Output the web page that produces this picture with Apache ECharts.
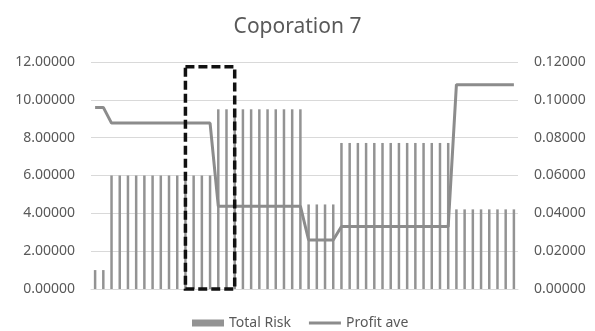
<!DOCTYPE html>
<html>
<head>
<meta charset="utf-8">
<script src="https://cdn.jsdelivr.net/npm/echarts@6/dist/echarts.min.js"></script>
<style>
html,body{margin:0;padding:0;background:#fff;}
#chart{width:595px;height:331px;}
</style>
</head>
<body>
<div id="chart"></div>
<script>
const titleText = 'Coporation 7';
const seriesNames = ['Total Risk', 'Profit ave'];
const categories = ['1','2','3','4','5','6','7','8','9','10','11','12','13','14','15','16','17','18','19','20','21','22','23','24','25','26','27','28','29','30','31','32','33','34','35','36','37','38','39','40','41','42','43','44','45','46','47','48','49','50','51','52'];
const totalRisk = [
  1.0, 1.0,
  6.0, 6.0, 6.0, 6.0, 6.0, 6.0, 6.0, 6.0, 6.0, 6.0, 6.0, 6.0, 6.0,
  9.5, 9.5, 9.5, 9.5, 9.5, 9.5, 9.5, 9.5, 9.5, 9.5, 9.5,
  4.47, 4.47, 4.47, 4.47,
  7.72, 7.72, 7.72, 7.72, 7.72, 7.72, 7.72, 7.72, 7.72, 7.72, 7.72, 7.72, 7.72, 7.72,
  4.21, 4.21, 4.21, 4.21, 4.21, 4.21, 4.21, 4.21
];
const profitAve = [
  0.096, 0.096,
  0.0877, 0.0877, 0.0877, 0.0877, 0.0877, 0.0877, 0.0877, 0.0877, 0.0877, 0.0877, 0.0877, 0.0877, 0.0877,
  0.0438, 0.0438, 0.0438, 0.0438, 0.0438, 0.0438, 0.0438, 0.0438, 0.0438, 0.0438, 0.0438,
  0.0259, 0.0259, 0.0259, 0.0259,
  0.033, 0.033, 0.033, 0.033, 0.033, 0.033, 0.033, 0.033, 0.033, 0.033, 0.033, 0.033, 0.033, 0.033,
  0.108, 0.108, 0.108, 0.108, 0.108, 0.108, 0.108, 0.108
];
const leftTicks = [0, 12, 2];
const rightTicks = [0, 0.12, 0.02];
// highlighted box annotation: [fromCategoryIndex, toCategoryIndex, bottom, top] on left axis
const highlightBox = [[11, 17, 0, 11.75]];

const chart = echarts.init(document.getElementById('chart'));
const font = 'Noto Sans';
chart.setOption({
  animation: false,
  backgroundColor: '#ffffff',
  title: {
    text: titleText,
    left: 'center',
    top: 12,
    textStyle: { fontFamily: font, fontSize: 21, fontWeight: 'normal', color: '#595959' }
  },
  legend: {
    data: [
      { name: seriesNames[0], icon: 'rect' },
      { name: seriesNames[1], icon: 'path://M0,0 L32,0 L32,3 L0,3 Z' }
    ],
    top: 311,
    left: 187,
    itemWidth: 32,
    itemHeight: 7,
    itemGap: 18,
    symbolKeepAspect: true,
    textStyle: { fontFamily: font, fontSize: 14, color: '#595959' }
  },
  grid: { left: 91, right: 77, top: 62, bottom: 42 },
  xAxis: {
    type: 'category',
    data: categories,
    axisLine: { lineStyle: { color: '#d9d9d9' } },
    axisTick: { show: false },
    axisLabel: { show: false }
  },
  yAxis: [
    {
      type: 'value', min: leftTicks[0], max: leftTicks[1], interval: leftTicks[2],
      axisLine: { show: false }, axisTick: { show: false },
      splitLine: { lineStyle: { color: '#d9d9d9', width: 1 } },
      axisLabel: { margin: 16, fontFamily: font, fontSize: 14, color: '#595959',
        formatter: v => v.toFixed(5) }
    },
    {
      type: 'value', min: rightTicks[0], max: rightTicks[1], interval: rightTicks[2],
      axisLine: { show: false }, axisTick: { show: false },
      splitLine: { show: false },
      axisLabel: { margin: 16, fontFamily: font, fontSize: 14, color: '#595959',
        formatter: v => v.toFixed(5) }
    }
  ],
  series: [
    {
      name: seriesNames[0],
      type: 'bar',
      data: totalRisk,
      yAxisIndex: 0,
      barWidth: 2.5,
      itemStyle: { color: '#939393' }
    },
    {
      name: seriesNames[1],
      type: 'line',
      data: profitAve,
      yAxisIndex: 1,
      symbol: 'none',
      z: 3,
      lineStyle: { color: '#8c8c8c', width: 3 },
      itemStyle: { color: '#8c8c8c' }
    },
    {
      name: 'highlight',
      type: 'custom',
      yAxisIndex: 0,
      z: 10,
      silent: true,
      data: highlightBox,
      encode: { x: [0, 1], y: [2, 3] },
      renderItem: function (params, api) {
        const p1 = api.coord([api.value(0), api.value(2)]);
        const p2 = api.coord([api.value(1), api.value(3)]);
        return {
          type: 'rect',
          shape: { x: p1[0], y: p2[1], width: p2[0] - p1[0], height: p1[1] - p2[1] },
          style: { fill: 'none', stroke: '#111111', lineWidth: 3.5, lineDash: [9, 4] }
        };
      }
    }
  ]
});
</script>
</body>
</html>
